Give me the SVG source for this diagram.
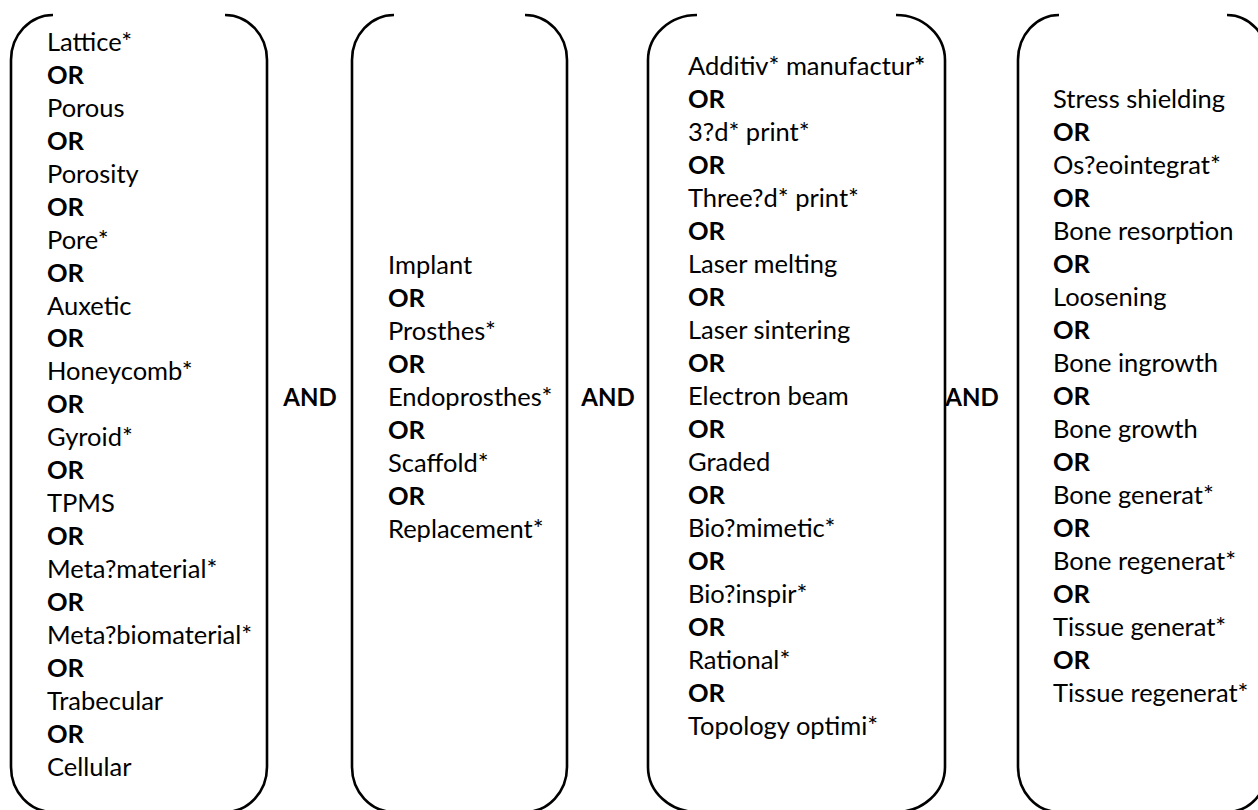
<svg xmlns="http://www.w3.org/2000/svg" width="1258" height="810" viewBox="0 0 1258 810">
<style>
.br{fill:none;stroke:#000;stroke-width:2.6}
text{font-family:Lato,"Open Sans",sans-serif;font-size:25.5px;fill:#000}
.b{font-weight:bold}
.and{font-weight:bold;font-size:24px;text-anchor:middle}
</style>
<rect width="1258" height="810" fill="#fff"/>
<g id="connectors">
<text class="and" x="310" y="406">AND</text>
<text class="and" x="608" y="406">AND</text>
<text class="and" x="972" y="406">AND</text>
</g>
<g id="box1">
<path class="br" d="M53,15 A42,45 0 0 0 11,60 L11,767 A42,45 0 0 0 53,812"/>
<path class="br" d="M225,15 A42,45 0 0 1 267,60 L267,767 A42,45 0 0 1 225,812"/>
<text x="47" y="51">Lattice*</text>
<text class="b" x="47" y="84">OR</text>
<text x="47" y="117">Porous</text>
<text class="b" x="47" y="150">OR</text>
<text x="47" y="183">Porosity</text>
<text class="b" x="47" y="216">OR</text>
<text x="47" y="249">Pore*</text>
<text class="b" x="47" y="282">OR</text>
<text x="47" y="315">Auxetic</text>
<text class="b" x="47" y="347">OR</text>
<text x="47" y="380">Honeycomb*</text>
<text class="b" x="47" y="413">OR</text>
<text x="47" y="446">Gyroid*</text>
<text class="b" x="47" y="479">OR</text>
<text x="47" y="512">TPMS</text>
<text class="b" x="47" y="545">OR</text>
<text x="47" y="578">Meta?material*</text>
<text class="b" x="47" y="611">OR</text>
<text x="47" y="644">Meta?biomaterial*</text>
<text class="b" x="47" y="677">OR</text>
<text x="47" y="710">Trabecular</text>
<text class="b" x="47" y="743">OR</text>
<text x="47" y="776">Cellular</text>
</g>
<g id="box2">
<path class="br" d="M394,15 A42,45 0 0 0 352,60 L352,767 A42,45 0 0 0 394,812"/>
<path class="br" d="M525,15 A42,45 0 0 1 567,60 L567,767 A42,45 0 0 1 525,812"/>
<text x="388" y="274">Implant</text>
<text class="b" x="388" y="307">OR</text>
<text x="388" y="340">Prosthes*</text>
<text class="b" x="388" y="373">OR</text>
<text x="388" y="406">Endoprosthes*</text>
<text class="b" x="388" y="439">OR</text>
<text x="388" y="472">Scaffold*</text>
<text class="b" x="388" y="505">OR</text>
<text x="388" y="538">Replacement*</text>
</g>
<g id="box3">
<path class="br" d="M697,15 A49,45 0 0 0 648,60 L648,767 A49,45 0 0 0 697,812"/>
<path class="br" d="M896,15 A49,45 0 0 1 945,60 L945,767 A49,45 0 0 1 896,812"/>
<text x="688" y="75">Additiv* manufactur<tspan class="b">*</tspan></text>
<text class="b" x="688" y="108">OR</text>
<text x="688" y="141">3?d* print*</text>
<text class="b" x="688" y="174">OR</text>
<text x="688" y="207">Three?d* print*</text>
<text class="b" x="688" y="240">OR</text>
<text x="688" y="273">Laser melting</text>
<text class="b" x="688" y="306">OR</text>
<text x="688" y="339">Laser sintering</text>
<text class="b" x="688" y="372">OR</text>
<text x="688" y="405">Electron beam</text>
<text class="b" x="688" y="438">OR</text>
<text x="688" y="471">Graded</text>
<text class="b" x="688" y="504">OR</text>
<text x="688" y="537">Bio?mimetic*</text>
<text class="b" x="688" y="570">OR</text>
<text x="688" y="603">Bio?inspir*</text>
<text class="b" x="688" y="636">OR</text>
<text x="688" y="669">Rational*</text>
<text class="b" x="688" y="702">OR</text>
<text x="688" y="735">Topology optimi*</text>
</g>
<g id="box4">
<path class="br" d="M1059,15 A41,45 0 0 0 1018,60 L1018,767 A41,45 0 0 0 1059,812"/>
<path class="br" d="M1227,15 A41,45 0 0 1 1268,60 L1268,767 A41,45 0 0 1 1227,812"/>
<text x="1053" y="108">Stress shielding</text>
<text class="b" x="1053" y="141">OR</text>
<text x="1053" y="174">Os?eointegrat*</text>
<text class="b" x="1053" y="207">OR</text>
<text x="1053" y="240">Bone resorption</text>
<text class="b" x="1053" y="273">OR</text>
<text x="1053" y="306">Loosening</text>
<text class="b" x="1053" y="339">OR</text>
<text x="1053" y="372">Bone ingrowth</text>
<text class="b" x="1053" y="405">OR</text>
<text x="1053" y="438">Bone growth</text>
<text class="b" x="1053" y="471">OR</text>
<text x="1053" y="504">Bone generat*</text>
<text class="b" x="1053" y="537">OR</text>
<text x="1053" y="570">Bone regenerat*</text>
<text class="b" x="1053" y="603">OR</text>
<text x="1053" y="636">Tissue generat*</text>
<text class="b" x="1053" y="669">OR</text>
<text x="1053" y="702">Tissue regenerat*</text>
</g>
</svg>
